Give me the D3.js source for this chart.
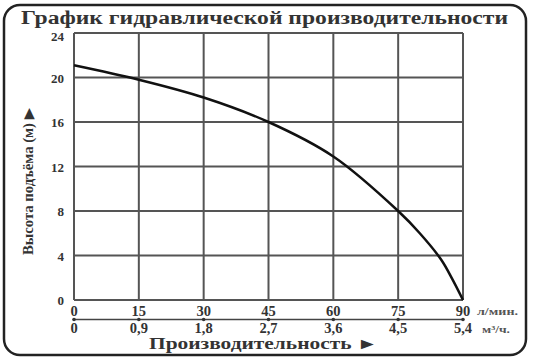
<!DOCTYPE html>
<html>
<head>
<meta charset="utf-8">
<script src="https://cdn.jsdelivr.net/npm/d3@7"></script>
<style>
  body { margin: 0; background: #fff; }
  svg { display: block; }
</style>
</head>
<body>
<div id="chart"></div>
<script>
const flow = [0, 15, 30, 45, 60, 75, 80, 85, 87.5, 90];
const head = [21.1, 19.8, 18.2, 16, 12.9, 8, 6.0, 3.6, 1.9, 0];
const yTicks = [0, 4, 8, 12, 16, 20, 24];
const xTicks = [0, 15, 30, 45, 60, 75, 90];
const m3Labels = ["0", "0,9", "1,8", "2,7", "3,6", "4,5", "5,4"];

const w = 535, h = 362;
const serif = "'Liberation Serif', 'DejaVu Serif', serif";

const svg = d3.select("#chart").append("svg")
    .attr("width", w)
    .attr("height", h);

// outer rounded frame
svg.append("rect")
    .attr("x", 4).attr("y", 5)
    .attr("width", 522).attr("height", 350)
    .attr("rx", 16)
    .attr("fill", "#fff")
    .attr("stroke", "#222")
    .attr("stroke-width", 2.5);

const x = d3.scaleLinear().domain([0, 90]).range([74, 463]);
const y = d3.scaleLinear().domain([0, 24]).range([300, 33]);

svg.append("text")
    .attr("x", 21).attr("y", 24)
    .attr("textLength", 487)
    .attr("lengthAdjust", "spacingAndGlyphs")
    .style("font-family", serif)
    .style("font-weight", "bold")
    .style("font-size", "18px")
    .attr("fill", "#333")
    .text("График гидравлической производительности");

// grid
const grid = svg.append("g").attr("stroke", "#555").attr("stroke-width", 2);
grid.selectAll(".v").data(xTicks).enter().append("line")
    .attr("x1", d => x(d)).attr("x2", d => x(d))
    .attr("y1", y(24)).attr("y2", y(0));
grid.selectAll(".h").data(yTicks).enter().append("line")
    .attr("x1", x(0)).attr("x2", x(90))
    .attr("y1", d => y(d)).attr("y2", d => y(d));

// y tick labels (top one sits a bit lower, as in the original)
svg.selectAll(".ylab").data(yTicks).enter().append("text")
    .attr("x", x(0) - 10)
    .attr("y", d => y(d) + (d === 24 ? 7.5 : 5))
    .attr("text-anchor", "end")
    .style("font-family", serif)
    .style("font-weight", "bold")
    .style("font-size", "13px")
    .attr("fill", "#333")
    .text(d => d);

svg.append("text")
    .attr("transform", `translate(33, 255) rotate(-90)`)
    .attr("textLength", 147)
    .attr("lengthAdjust", "spacingAndGlyphs")
    .style("font-family", serif)
    .style("font-weight", "bold")
    .style("font-size", "14px")
    .attr("fill", "#333")
    .text("Высота подъёма (м) ▶");

// x tick labels (л/мин)
svg.selectAll(".xlab").data(xTicks).enter().append("text")
    .attr("x", d => x(d))
    .attr("y", y(0) + 15.5)
    .attr("text-anchor", "middle")
    .style("font-family", serif)
    .style("font-weight", "bold")
    .style("font-size", "14.5px")
    .attr("fill", "#333")
    .text(d => d);

svg.append("text")
    .attr("x", x(90) + 14).attr("y", y(0) + 15)
    .attr("textLength", 41)
    .attr("lengthAdjust", "spacingAndGlyphs")
    .style("font-family", serif)
    .style("font-weight", "bold")
    .style("font-size", "10px")
    .attr("fill", "#555")
    .text("л/мин.");

// secondary scale line (м³/ч)
const ly = y(0) + 19.5;
svg.append("line")
    .attr("x1", x(0)).attr("x2", x(90))
    .attr("y1", ly).attr("y2", ly)
    .attr("stroke", "#444").attr("stroke-width", 1.5);
svg.selectAll(".tick2").data(xTicks).enter().append("circle")
    .attr("cx", d => x(d)).attr("cy", ly)
    .attr("r", 1.8).attr("fill", "#333");

svg.selectAll(".xlab2").data(xTicks).enter().append("text")
    .attr("x", d => x(d))
    .attr("y", y(0) + 33)
    .attr("text-anchor", "middle")
    .style("font-family", serif)
    .style("font-weight", "bold")
    .style("font-size", "14.5px")
    .attr("fill", "#333")
    .text((d, i) => m3Labels[i]);

svg.append("text")
    .attr("x", x(90) + 19).attr("y", y(0) + 33)
    .attr("textLength", 28)
    .attr("lengthAdjust", "spacingAndGlyphs")
    .style("font-family", serif)
    .style("font-weight", "bold")
    .style("font-size", "10px")
    .attr("fill", "#555")
    .text("м³/ч.");

svg.append("text")
    .attr("x", 149).attr("y", 349)
    .attr("textLength", 229)
    .attr("lengthAdjust", "spacingAndGlyphs")
    .style("font-family", serif)
    .style("font-weight", "bold")
    .style("font-size", "16px")
    .attr("fill", "#333")
    .text("Производительность ►");

// curve
const pts = flow.map((f, i) => [f, head[i]]);
const line = d3.line()
    .x(d => x(d[0]))
    .y(d => y(d[1]))
    .curve(d3.curveCatmullRom);

svg.append("path")
    .datum(pts)
    .attr("d", line)
    .attr("fill", "none")
    .attr("stroke", "#111")
    .attr("stroke-width", 2.5);
</script>
</body>
</html>
